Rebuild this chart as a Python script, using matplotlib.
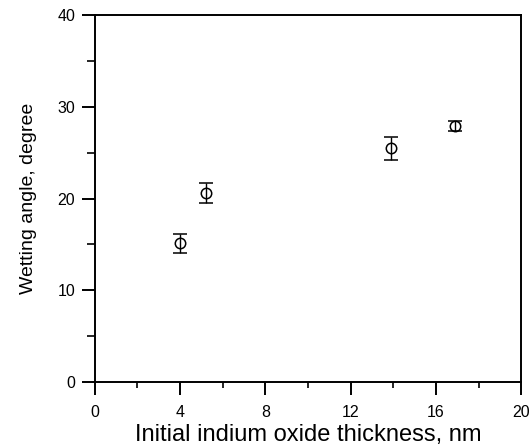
import matplotlib.pyplot as plt
from matplotlib.ticker import MultipleLocator

plt.rcParams['font.family'] = ['Liberation Sans', 'DejaVu Sans']

# values
thickness = [4.0, 5.2, 13.9, 16.9]
angle = [15.1, 20.6, 25.5, 27.95]
angle_err = [1.05, 1.1, 1.25, 0.55]

fig = plt.figure(figsize=(5.31, 4.47), dpi=100)
ax = fig.add_axes([0.178, 0.1454, 0.804, 0.821])

ax.errorbar(thickness, angle, yerr=angle_err, fmt='o', mfc='none', mec='black',
            ms=7.5, mew=1.1, ecolor='black', elinewidth=1.0, capsize=5, capthick=1.0)

ax.set_xlim(0, 20)
ax.set_ylim(0, 40)
ax.xaxis.set_major_locator(MultipleLocator(4))
ax.xaxis.set_minor_locator(MultipleLocator(2))
ax.yaxis.set_major_locator(MultipleLocator(10))
ax.yaxis.set_minor_locator(MultipleLocator(5))

for s in ax.spines.values():
    s.set_linewidth(1.4)

ax.tick_params(which='major', direction='out', length=9.4, width=1.4, labelsize=11.5)
ax.tick_params(axis='x', which='major', pad=7)
ax.tick_params(axis='y', which='major', pad=4.5)
ax.tick_params(which='minor', direction='out', length=4.5, width=1.2)
ax.tick_params(axis='y', which='minor', length=5.5)

ax.set_xlabel('Initial indium oxide thickness, nm', fontsize=17, labelpad=3)
ax.set_ylabel('Wetting angle, degree', fontsize=14, labelpad=15)

fig.savefig('out.png', dpi=100)
